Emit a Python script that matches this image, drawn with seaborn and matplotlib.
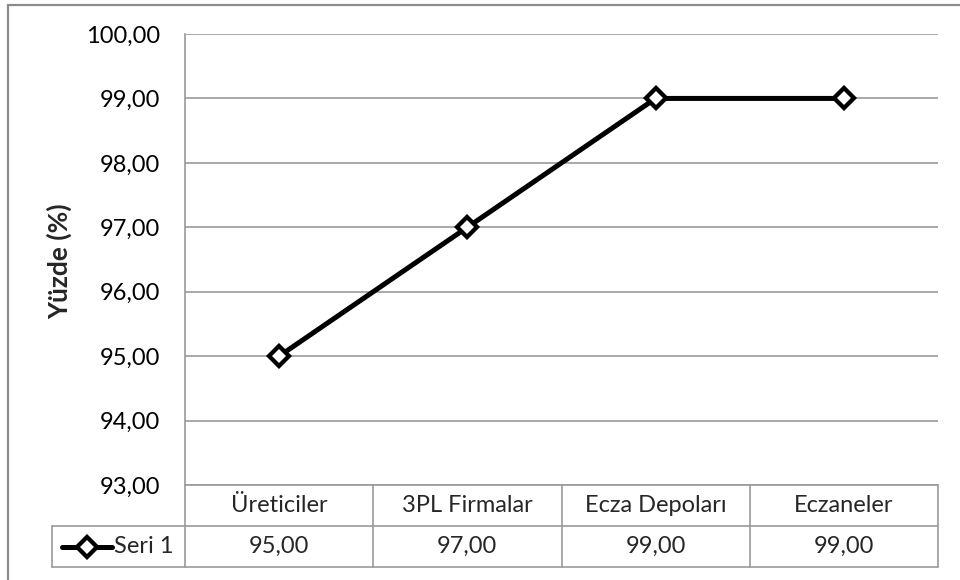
import matplotlib
matplotlib.use("Agg")
import matplotlib.pyplot as plt
from matplotlib.patches import Rectangle
from matplotlib.lines import Line2D
import seaborn as sns
import pandas as pd

categories = ["Üreticiler", "3PL Firmalar", "Ecza Depoları", "Eczaneler"]
values = [95.00, 97.00, 99.00, 99.00]
series_name = "Seri 1"
y_ticks = [93, 94, 95, 96, 97, 98, 99, 100]

sns.set_theme(style="white")
plt.rcParams["font.family"] = ["Lato", "DejaVu Sans"]

FS = 17

def fmt(v):
    return f"{v:.2f}".replace(".", ",")

df = pd.DataFrame({"pos": range(len(categories)), "val": values})

fig = plt.figure(figsize=(9.6, 5.8), dpi=100)
W, H = 960, 580
ax = fig.add_axes([185 / W, 1 - 485 / H, (938 - 185) / W, (485 - 34) / H])

grid_c = "#9a9a9a"
for t in y_ticks:
    ax.axhline(t, color=grid_c, lw=1.2, zorder=0)

sns.lineplot(data=df, x="pos", y="val", ax=ax, color="black", lw=3.6,
             marker="D", markersize=10.5, markerfacecolor="white",
             markeredgecolor="black", markeredgewidth=3.1, zorder=3)

ax.set_xlim(-0.5, len(categories) - 0.5)
ax.set_ylim(93, 100)
ax.set_yticks(y_ticks)
ax.set_yticklabels([fmt(t) for t in y_ticks], fontsize=FS, color="black")
ax.tick_params(axis="y", length=0, pad=18)
ax.set_xticks([])
ax.set_xlabel("")
ax.set_ylabel("")
for s in ["top", "right", "bottom"]:
    ax.spines[s].set_visible(False)
ax.spines["left"].set_color(grid_c)
ax.spines["left"].set_linewidth(1.2)

# data table under the plot
tr = ax.get_xaxis_transform()
row_h = 41 / (485 - 34)
left_edge = -0.5 - (185 - 52) / 188.0
n = len(categories)
tbl_kw = dict(color=grid_c, lw=1.2, transform=tr, clip_on=False)
ax.plot([-0.5, n - 0.5], [0, 0], **tbl_kw)
ax.plot([left_edge, n - 0.5], [-row_h, -row_h], **tbl_kw)
ax.plot([left_edge, n - 0.5], [-2 * row_h, -2 * row_h], **tbl_kw)
ax.plot([left_edge, left_edge], [-row_h, -2 * row_h], **tbl_kw)
for b in range(n + 1):
    ax.plot([b - 0.5, b - 0.5], [0, -2 * row_h], **tbl_kw)

for i, (c, v) in enumerate(zip(categories, values)):
    ax.text(i, -row_h / 2, c, transform=tr, ha="center", va="center",
            fontsize=FS, clip_on=False)
    ax.text(i, -1.5 * row_h, fmt(v), transform=tr, ha="center", va="center",
            fontsize=FS, clip_on=False)

# legend key in the table
key_y = -1.5 * row_h
ax.add_line(Line2D([left_edge + 0.053, left_edge + 0.319], [key_y, key_y],
                   color="black", lw=3.6, transform=tr, clip_on=False))
ax.add_line(Line2D([left_edge + 0.186], [key_y], marker="D", markersize=10,
                   markerfacecolor="white", markeredgecolor="black",
                   markeredgewidth=3.1, transform=tr, clip_on=False))
ax.text(left_edge + 0.33, key_y, series_name, transform=tr, ha="left",
        va="center", fontsize=FS, clip_on=False)

fig.text(60 / W, 1 - 261 / H, "Yüzde (%)", rotation=90, ha="center",
         va="center", fontsize=19, fontweight="bold")

# chart area frame
fig.patches.append(Rectangle((7.5 / W, -0.05), 1.1, 1 - 4.5 / H + 0.05,
                             transform=fig.transFigure, fill=False,
                             edgecolor="#8c8c8c", lw=1.6))

fig.savefig("out.png", dpi=100)
